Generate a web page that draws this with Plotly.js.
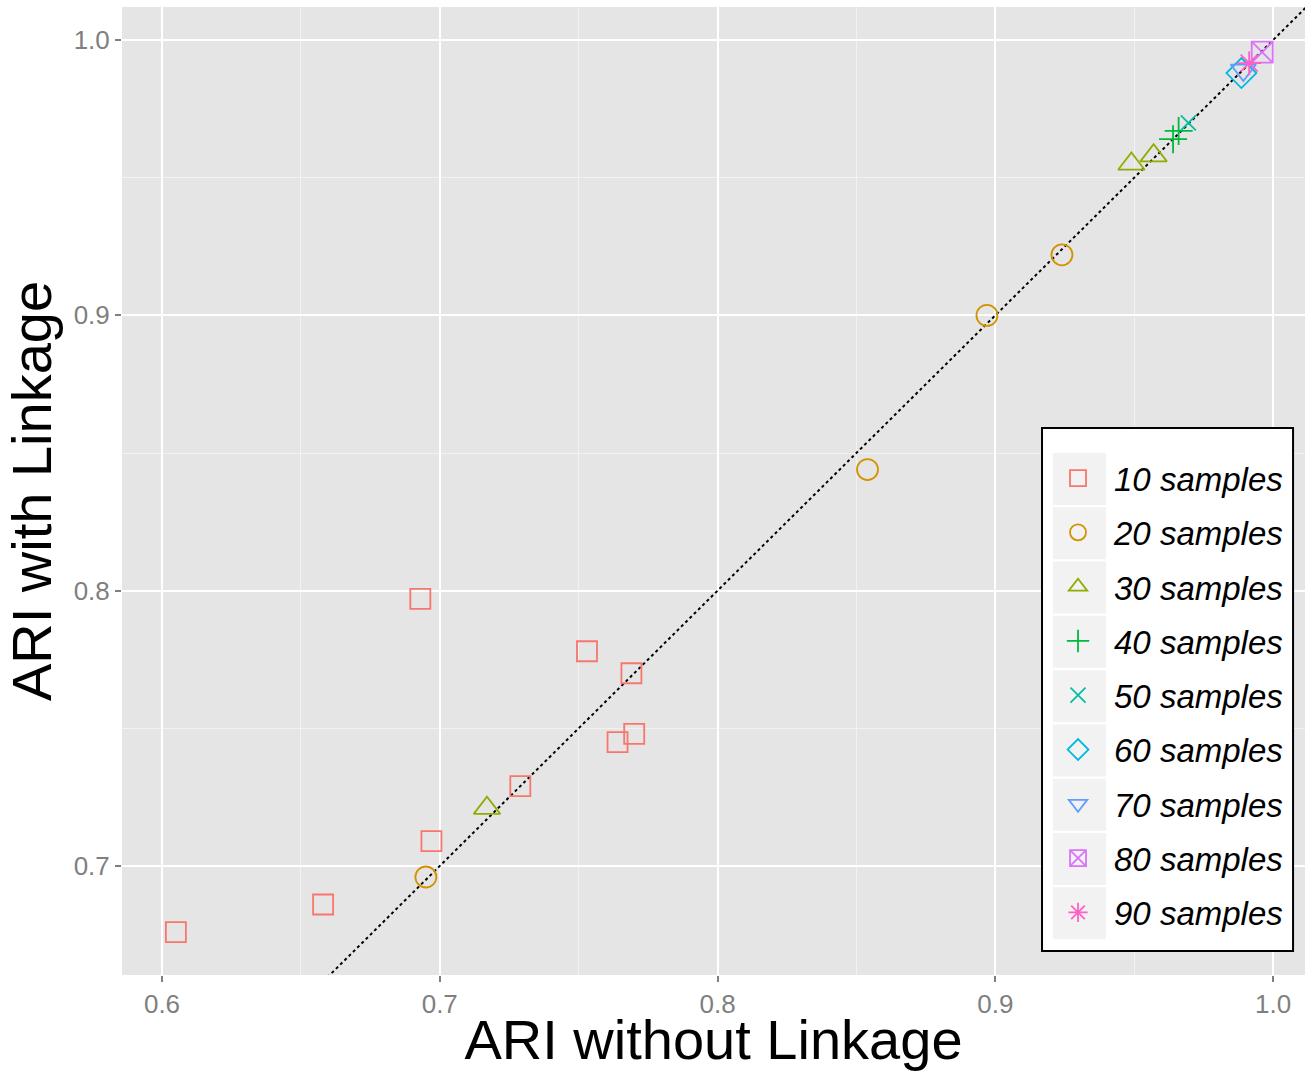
<!DOCTYPE html>
<html>
<head>
<meta charset="utf-8">
<script src="https://cdn.plot.ly/plotly-3.0.1.min.js"></script>
<style>html,body{margin:0;padding:0;background:#fff;}#chart{width:1305px;height:1071px;}</style>
</head>
<body>
<div id="chart"></div>
<script>
// ---- data ----
const seriesNames = ["10 samples","20 samples","30 samples","40 samples","50 samples","60 samples","70 samples","80 samples","90 samples"];
const s10x = [0.605, 0.658, 0.693, 0.697, 0.729, 0.753, 0.769, 0.764, 0.770];
const s10y = [0.676, 0.686, 0.797, 0.709, 0.729, 0.778, 0.770, 0.745, 0.748];
const s20x = [0.695, 0.854, 0.897, 0.924];
const s20y = [0.696, 0.844, 0.900, 0.922];
const s30x = [0.717, 0.949, 0.957];
const s30y = [0.721, 0.955, 0.958];
const s40x = [0.964, 0.966];
const s40y = [0.964, 0.967];
const s50x = [0.9695];
const s50y = [0.9699];
const s60x = [0.9886];
const s60y = [0.9880];
const s70x = [0.9893];
const s70y = [0.9891];
const s80x = [0.9961];
const s80y = [0.9956];
const s90x = [0.9914];
const s90y = [0.9916];
const refLine = [0.5, 1.05];   // identity line y = x
const xTickVals = [0.6, 0.7, 0.8, 0.9, 1.0];
const xTickText = ["0.6","0.7","0.8","0.9","1.0"];
const yTickVals = [0.7, 0.8, 0.9, 1.0];
const yTickText = ["0.7","0.8","0.9","1.0"];

// ---- styling ----
const colors = ["#F8766D","#D39200","#93AA00","#00BA38","#00C19F","#00B9E3","#619CFF","#DB72FB","#FF61C3"];
const symbols = ["square-open","circle-open","triangle-up-open","cross-thin-open","x-thin-open","diamond-open","triangle-down-open","square-x-open","asterisk-open"];
const sizes = [20, 21, 23, 20, 15, 23, 22, 21, 20];
const xs = [s10x,s20x,s30x,s40x,s50x,s60x,s70x,s80x,s90x];
const ys = [s10y,s20y,s30y,s40y,s50y,s60y,s70y,s80y,s90y];

const traces = [{
  x: refLine, y: refLine, mode: "lines", type: "scatter",
  line: {color: "#000", width: 2, dash: "dot"},
  showlegend: false, hoverinfo: "skip"
}];
seriesNames.forEach((n, i) => {
  traces.push({
    x: xs[i], y: ys[i], name: n, type: "scatter", mode: "markers",
    legendgroup: "g" + i,
    marker: {symbol: symbols[i], size: sizes[i], color: colors[i], line: {color: colors[i], width: 1.8}}
  });
});

// legend box + grey key boxes (decoration, paper coordinates)
const legL = 0.7777, legR = 0.9899, legT = 0.5651, legB = 0.0248;
const keyL = 0.787, keyR = 0.8318, keyTop = 0.5393, keyH = 52/968, keyStep = 54.3/968;
const shapes = [{type: "rect", xref: "paper", yref: "paper", x0: legL, x1: legR, y0: legB, y1: legT,
  fillcolor: "#fff", line: {width: 2, color: "#000"}, layer: "above"}];
seriesNames.forEach((n, i) => {
  shapes.push({type: "rect", xref: "paper", yref: "paper", x0: keyL, x1: keyR,
    y1: keyTop - i * keyStep, y0: keyTop - i * keyStep - keyH,
    fillcolor: "#F2F2F2", line: {width: 0}, layer: "above"});
});

const font = "Liberation Sans, Arial, Helvetica, sans-serif";
const layout = {
  width: 1305, height: 1071,
  margin: {l: 122, r: 0, t: 7, b: 96},
  paper_bgcolor: "#fff", plot_bgcolor: "#E5E5E5",
  font: {family: font},
  showlegend: true,
  shapes: shapes,
  xaxis: {
    range: [0.5856, 1.0115], tickvals: xTickVals, ticktext: xTickText,
    showgrid: true, gridcolor: "#fff", gridwidth: 2, zeroline: false,
    ticks: "outside", ticklen: 6, tickwidth: 2, tickcolor: "#7F7F7F",
    tickfont: {size: 26, color: "#7F7F7F", family: font},
    minor: {dtick: 0.05, tick0: 0.55, showgrid: true, gridcolor: "#F2F2F2", gridwidth: 1, ticks: ""},
    title: {text: "ARI without Linkage", font: {size: 56, color: "#000", family: font}, standoff: 12},
    showline: false
  },
  yaxis: {
    range: [0.6604, 1.012], tickvals: yTickVals, ticktext: yTickText,
    showgrid: true, gridcolor: "#fff", gridwidth: 2, zeroline: false,
    ticks: "outside", ticklen: 6, tickwidth: 2, tickcolor: "#7F7F7F",
    tickfont: {size: 26, color: "#7F7F7F", family: font},
    minor: {dtick: 0.05, tick0: 0.65, showgrid: true, gridcolor: "#F2F2F2", gridwidth: 1, ticks: ""},
    title: {text: "ARI with Linkage", font: {size: 56, color: "#000", family: font}, standoff: 4},
    showline: false
  },
  legend: {
    x: legL, y: legT, xanchor: "left", yanchor: "top",
    bgcolor: "rgba(0,0,0,0)", borderwidth: 0,
    font: {size: 33, color: "#000", family: font, style: "italic"},
    title: {text: " ", font: {size: 17}},
    tracegroupgap: 8.4, itemsizing: "trace", itemwidth: 62
  }
};
Plotly.newPlot("chart", traces, layout, {displayModeBar: false, staticPlot: true});
</script>
</body>
</html>
